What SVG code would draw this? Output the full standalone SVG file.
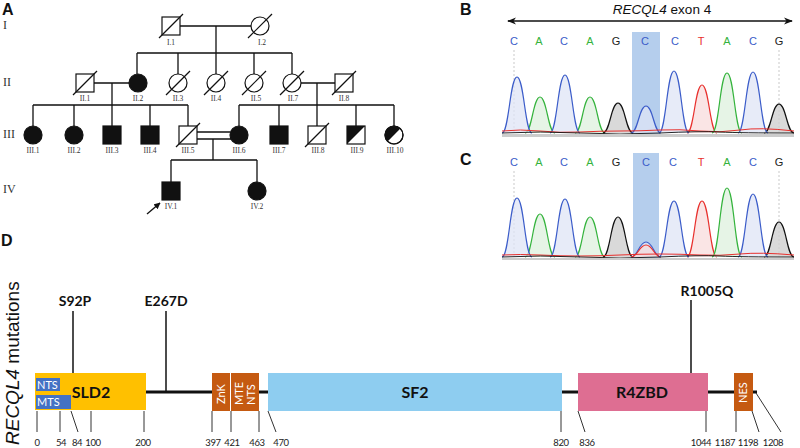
<svg xmlns="http://www.w3.org/2000/svg" width="800" height="448" viewBox="0 0 800 448">
<defs>
<style>
.ln{stroke:#111;stroke-width:1.3;fill:none}
.sym{stroke:#111;stroke-width:1.2;fill:#fff}
.aff{stroke:#111;stroke-width:1.2;fill:#111}
.sl{stroke:#111;stroke-width:1.2}
.lab{font-family:"Liberation Serif",serif;font-size:7.5px;fill:#333;text-anchor:middle}
.gen{font-family:"Liberation Serif",serif;font-size:12px;fill:#333}
.pl{font-family:"Liberation Sans",Arial,sans-serif;font-size:16px;font-weight:bold;fill:#111}
.nt{font-family:"Liberation Sans",Arial,sans-serif;font-size:11px;text-anchor:middle}
.pb{stroke:#3b5cc9;stroke-width:1.2;fill:#dfe4f5;fill-opacity:0.75}
.pg{stroke:#34b33c;stroke-width:1.2;fill:#ddf0dd;fill-opacity:0.75}
.pk{stroke:#111;stroke-width:1.2;fill:#cfcfcf;fill-opacity:0.8}
.pr{stroke:#e8302d;stroke-width:1.2;fill:#f8dcdc;fill-opacity:0.75}
.dash{stroke:#bbb;stroke-width:0.8;stroke-dasharray:2 2}
.tk{stroke:#333;stroke-width:1}
.num{font-family:Lato,"Liberation Sans",sans-serif;font-size:9.5px;letter-spacing:-0.4px;fill:#222;text-anchor:middle}
.dl{font-family:Lato,"Liberation Sans",sans-serif;font-size:16px;font-weight:bold;fill:#111;text-anchor:middle}
.wl{font-family:Lato,"Liberation Sans",sans-serif;font-size:11px;fill:#fff}
.mut{font-family:Lato,"Liberation Sans",sans-serif;font-size:14px;font-weight:bold;fill:#111;text-anchor:middle}
.stem{stroke:#111;stroke-width:1.5}
</style>
<marker id="arr" viewBox="0 0 10 10" refX="9" refY="5" markerWidth="5" markerHeight="5" orient="auto"><path d="M0,0 L10,5 L0,10 z" fill="#111"/></marker>
<marker id="dh" viewBox="0 0 10 10" refX="9" refY="5" markerWidth="7" markerHeight="7" orient="auto-start-reverse"><path d="M0,1 L10,5 L0,9 L3,5 z" fill="#111"/></marker>
<clipPath id="cb"><rect x="502" y="30" width="292" height="108"/></clipPath>
<clipPath id="cc"><rect x="502" y="150" width="292" height="112"/></clipPath>
</defs>
<rect width="800" height="448" fill="#fff"/>

<!-- Panel labels -->
<text class="pl" x="2" y="15">A</text>
<text class="pl" x="460" y="15">B</text>
<text class="pl" x="460" y="165">C</text>
<text class="pl" x="1" y="246">D</text>

<!-- Generation labels -->
<text class="gen" x="3" y="29">I</text>
<text class="gen" x="3" y="86">II</text>
<text class="gen" x="3" y="138">III</text>
<text class="gen" x="3" y="193">IV</text>

<!-- Pedigree connectors -->
<g id="pedigree-lines">
<path class="ln" d="M180,26 H251 M216,26 V53 M137,53 H292 M137,53 V74 M178,53 V74 M216,53 V74 M254,53 V74 M292,53 V74"/>
<path class="ln" d="M94,83 H129 M112,83 V105 M33,105 H188 M33,105 V126 M74,105 V126 M112,105 V126 M150,105 V126 M188,105 V126"/>
<path class="ln" d="M301,83 H335 M317,83 V105 M239,105 H394 M239,105 V126 M279,105 V126 M317,105 V126 M356,105 V126 M394,105 V126"/>
<path class="ln" d="M197,132 H230 M197,139 H231 M213,139 V160 M171,160 H257 M171,160 V182 M257,160 V182"/>
<line class="ln" x1="147" y1="214" x2="160" y2="203" marker-end="url(#arr)"/>
</g>

<!-- Generation I -->
<g id="I1"><rect class="sym" x="162" y="17" width="18" height="18"/><line class="sl" x1="159" y1="38" x2="183" y2="14"/><text class="lab" x="171" y="45">I.1</text></g>
<g id="I2"><circle class="sym" cx="260" cy="26" r="9"/><line class="sl" x1="248" y1="38" x2="272" y2="14"/><text class="lab" x="262" y="45">I.2</text></g>

<!-- Generation II -->
<g id="II1"><rect class="sym" x="76" y="74" width="18" height="18"/><line class="sl" x1="73" y1="95" x2="97" y2="71"/><text class="lab" x="85" y="101">II.1</text></g>
<g id="II2"><circle class="aff" cx="138" cy="83" r="9"/><text class="lab" x="138" y="101">II.2</text></g>
<g id="II3"><circle class="sym" cx="178" cy="83" r="9"/><line class="sl" x1="166" y1="95" x2="190" y2="71"/><text class="lab" x="178" y="101">II.3</text></g>
<g id="II4"><circle class="sym" cx="216" cy="83" r="9"/><line class="sl" x1="204" y1="95" x2="228" y2="71"/><text class="lab" x="216" y="101">II.4</text></g>
<g id="II5"><circle class="sym" cx="254" cy="83" r="9"/><line class="sl" x1="242" y1="95" x2="266" y2="71"/><text class="lab" x="256" y="101">II.5</text></g>
<g id="II7"><circle class="sym" cx="292" cy="83" r="9"/><line class="sl" x1="280" y1="95" x2="304" y2="71"/><text class="lab" x="293" y="101">II.7</text></g>
<g id="II8"><rect class="sym" x="335" y="74" width="18" height="18"/><line class="sl" x1="332" y1="95" x2="356" y2="71"/><text class="lab" x="344" y="101">II.8</text></g>

<!-- Generation III -->
<g id="III1"><circle class="aff" cx="33" cy="135" r="9"/><text class="lab" x="33" y="153">III.1</text></g>
<g id="III2"><circle class="aff" cx="74" cy="135" r="9"/><text class="lab" x="74" y="153">III.2</text></g>
<g id="III3"><rect class="aff" x="103" y="126" width="18" height="18"/><text class="lab" x="112" y="153">III.3</text></g>
<g id="III4"><rect class="aff" x="141" y="126" width="18" height="18"/><text class="lab" x="150" y="153">III.4</text></g>
<g id="III5"><rect class="sym" x="179" y="126" width="18" height="18"/><line class="sl" x1="176" y1="147" x2="200" y2="123"/><text class="lab" x="188" y="153">III.5</text></g>
<g id="III6"><circle class="aff" cx="239" cy="135" r="9"/><text class="lab" x="239" y="153">III.6</text></g>
<g id="III7"><rect class="aff" x="270" y="126" width="18" height="18"/><text class="lab" x="279" y="153">III.7</text></g>
<g id="III8"><rect class="sym" x="308" y="126" width="18" height="18"/><line class="sl" x1="305" y1="147" x2="329" y2="123"/><text class="lab" x="318" y="153">III.8</text></g>
<g id="III9"><rect class="sym" x="347" y="126" width="18" height="18"/><path d="M347,126 H365 L347,144 Z" fill="#111"/><text class="lab" x="357" y="153">III.9</text></g>
<g id="III10"><circle class="sym" cx="394" cy="135" r="9"/><path d="M387.6,141.4 A9,9 0 0 1 400.4,128.6 Z" fill="#111"/><circle cx="394" cy="135" r="9" fill="none" stroke="#111" stroke-width="1.2"/><text class="lab" x="395" y="153">III.10</text></g>

<!-- Generation IV -->
<g id="IV1"><rect class="aff" x="162" y="182" width="18" height="18"/><text class="lab" x="171" y="209">IV.1</text></g>
<g id="IV2"><circle class="aff" cx="257" cy="191" r="9"/><text class="lab" x="257" y="209">IV.2</text></g>

<!-- Panel B -->
<g id="panelB">
<text x="662" y="14" text-anchor="middle" font-family="'Liberation Sans',Arial,sans-serif" font-size="13.5" fill="#111"><tspan font-style="italic">RECQL4</tspan> exon 4</text>
<line x1="508" y1="21" x2="792" y2="21" stroke="#111" stroke-width="1.3" marker-start="url(#dh)" marker-end="url(#dh)"/>
<rect x="632" y="32" width="28" height="103" fill="#a8c6ea" opacity="0.85"/>
<line class="dash" x1="514" y1="50" x2="514" y2="133"/>
<line class="dash" x1="779" y1="50" x2="779" y2="133"/>
<g class="nt">
<text x="514" y="45" fill="#3b5cc9">C</text><text x="539" y="45" fill="#34b33c">A</text><text x="564" y="45" fill="#3b5cc9">C</text><text x="590" y="45" fill="#34b33c">A</text><text x="616" y="45" fill="#222">G</text><text x="645" y="45" fill="#3b5cc9">C</text><text x="675" y="45" fill="#3b5cc9">C</text><text x="701" y="45" fill="#e8302d">T</text><text x="727" y="45" fill="#34b33c">A</text><text x="753" y="45" fill="#3b5cc9">C</text><text x="779" y="45" fill="#222">G</text>
</g>
<g clip-path="url(#cb)">
<path class="pg" d="M525,133 C532,133 533,97 540,97 C547,97 548,133 555,133"/>
<path class="pg" d="M575,133 C582,133 583,97 590,97 C597,97 598,133 605,133"/>
<path class="pk" d="M603,133 C610,133 611,103 618,103 C625,103 626,133 633,133"/>
<path class="pr" d="M687,133 C694,133 695,85 702,85 C709,85 710,133 717,133"/>
<path class="pg" d="M712,133 C719,133 720,73 727,73 C734,73 735,133 742,133"/>
<path class="pk" d="M764,133 C771,133 772,104 779,104 C786,104 787,133 794,133"/>
<path class="pb" d="M502,133 C509,133 510,77 517,77 C524,77 525,133 532,133"/>
<path class="pb" d="M550,133 C557,133 558,75 565,75 C572,75 573,133 580,133"/>
<path class="pb" d="M631,133 C638,133 639,106 646,106 C653,106 654,133 661,133"/>
<path class="pb" d="M659,133 C666,133 667,71 674,71 C681,71 682,133 689,133"/>
<path class="pb" d="M738,133 C745,133 746,72 753,72 C760,72 761,133 768,133"/>
<path d="M502,131 Q520,129 540,131 T580,132 T620,131 T660,130 T700,131 T740,130 T794,131" fill="none" stroke="#e8302d" stroke-width="1"/>
<path d="M502,133 Q540,131 580,133 T660,133 T720,132 T794,133" fill="none" stroke="#111" stroke-width="0.9"/>
<rect x="502" y="134" width="292" height="3" fill="#ccc"/>
</g>
</g>

<!-- Panel C -->
<g id="panelC">
<rect x="633" y="153" width="26" height="105" fill="#a8c6ea" opacity="0.85"/>
<line class="dash" x1="514" y1="171" x2="514" y2="257"/>
<line class="dash" x1="779" y1="171" x2="779" y2="257"/>
<g class="nt">
<text x="514" y="166" fill="#3b5cc9">C</text><text x="539" y="166" fill="#34b33c">A</text><text x="564" y="166" fill="#3b5cc9">C</text><text x="590" y="166" fill="#34b33c">A</text><text x="616" y="166" fill="#222">G</text><text x="646" y="166" fill="#3b5cc9">C</text><text x="673" y="166" fill="#3b5cc9">C</text><text x="701" y="166" fill="#e8302d">T</text><text x="727" y="166" fill="#34b33c">A</text><text x="753" y="166" fill="#3b5cc9">C</text><text x="779" y="166" fill="#222">G</text>
</g>
<g clip-path="url(#cc)">
<path class="pg" d="M525,257 C532,257 533,214 540,214 C547,214 548,257 555,257"/>
<path class="pg" d="M575,257 C582,257 583,217 590,217 C597,217 598,257 605,257"/>
<path class="pk" d="M603,257 C610,257 611,217 618,217 C625,217 626,257 633,257"/>
<path class="pr" d="M687,257 C694,257 695,201 702,201 C709,201 710,257 717,257"/>
<path class="pg" d="M712,257 C719,257 720,188 727,188 C734,188 735,257 742,257"/>
<path class="pk" d="M764,257 C771,257 772,222 779,222 C786,222 787,257 794,257"/>
<path class="pb" d="M502,257 C509,257 510,198 517,198 C524,198 525,257 532,257"/>
<path class="pb" d="M550,257 C557,257 558,199 565,199 C572,199 573,257 580,257"/>
<path class="pb" d="M631,257 C638,257 639,242 646,242 C653,242 654,257 661,257"/>
<path class="pr" d="M631,257 C638,257 639,245 646,245 C653,245 654,257 661,257" fill="none"/>
<path class="pb" d="M659,257 C666,257 667,201 674,201 C681,201 682,257 689,257"/>
<path class="pb" d="M738,257 C745,257 746,194 753,194 C760,194 761,257 768,257"/>
<path d="M502,255 Q520,254 540,255 T580,256 T620,255 T660,254 T700,255 T740,254 T794,255" fill="none" stroke="#e8302d" stroke-width="1"/>
<path d="M502,257 Q540,255 580,257 T660,257 T720,256 T794,257" fill="none" stroke="#111" stroke-width="0.9"/>
<rect x="502" y="258" width="292" height="2" fill="#ccc"/>
</g>
</g>

<!-- Panel D -->
<text transform="translate(19,445) rotate(-90)" font-family="'Liberation Sans',Arial,sans-serif" font-size="19" fill="#111"><tspan font-style="italic">RECQL4</tspan> mutations</text>

<g id="backbone">
<path d="M146,392 H212 M259,392 H268 M562,392 H578 M708,392 H734 M753,392 H757" stroke="#111" stroke-width="3" fill="none"/>
</g>
<g id="mutations">
<line class="stem" x1="73" y1="311" x2="73" y2="373"/>
<text class="mut" x="75" y="306">S92P</text>
<line class="stem" x1="166" y1="311" x2="166" y2="392"/>
<text class="mut" x="166" y="306">E267D</text>
<line class="stem" x1="691" y1="300" x2="691" y2="373"/>
<text class="mut" x="707" y="296">R1005Q</text>
</g>
<g id="SLD2"><rect x="35" y="373" width="111" height="37" fill="#FFC000"/><text class="dl" x="91" y="398">SLD2</text></g>
<g id="NTS1"><rect x="36" y="378" width="24" height="13" fill="#4472C4"/><text class="wl" x="37" y="389">NTS</text></g>
<g id="MTS"><rect x="36" y="395" width="35" height="14" fill="#4472C4"/><text class="wl" x="37" y="406">MTS</text></g>
<g id="ZnK"><rect x="212" y="373" width="18" height="38" fill="#C55A11"/><text class="wl" transform="translate(225,404) rotate(-90)">ZnK</text></g>
<g id="MTE-NTS"><rect x="231" y="373" width="28" height="38" fill="#C55A11"/><text class="wl" transform="translate(243,405) rotate(-90)">MTE</text><text class="wl" transform="translate(255,405) rotate(-90)">NTS</text></g>
<g id="SF2"><rect x="268" y="373" width="294" height="38" fill="#8ECDF0"/><text class="dl" x="415" y="398">SF2</text></g>
<g id="R4ZBD"><rect x="578" y="373" width="130" height="38" fill="#DE6E92"/><text class="dl" x="642" y="398">R4ZBD</text></g>
<g id="NES"><rect x="734" y="373" width="19" height="38" fill="#C55A11"/><text class="wl" transform="translate(747,403) rotate(-90)">NES</text></g>

<g id="ticks">
<path class="tk" d="M37,411 V432 M60,411 V432 M71,411 L78,432 M91,411 V432 M144,411 V432 M212,411 V432 M231,411 V432 M259,411 V432 M268,411 L276,432 M561,411 V432 M578,411 L585,432 M706,411 V432 M736,411 V432 M752,411 L759,432 M756,393 L781,432"/>
<text class="num" x="37" y="446">0</text>
<text class="num" x="61" y="446">54</text>
<text class="num" x="77" y="446">84</text>
<text class="num" x="93" y="446">100</text>
<text class="num" x="143" y="446">200</text>
<text class="num" x="213" y="446">397</text>
<text class="num" x="232" y="446">421</text>
<text class="num" x="257" y="446">463</text>
<text class="num" x="281" y="446">470</text>
<text class="num" x="561" y="446">820</text>
<text class="num" x="587" y="446">836</text>
<text class="num" x="701" y="446">1044</text>
<text class="num" x="725" y="446">1187</text>
<text class="num" x="748" y="446">1198</text>
<text class="num" x="773" y="446">1208</text>
</g>
</svg>
